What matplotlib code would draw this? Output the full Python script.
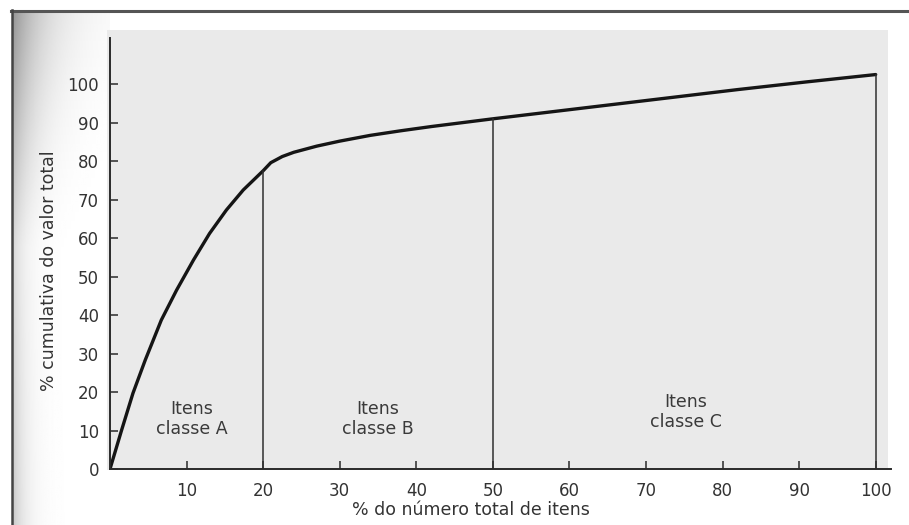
import numpy as np
import matplotlib
matplotlib.use("Agg")
from matplotlib import pyplot as plt
from matplotlib.patches import Rectangle

# curva ABC (% itens x % valor acumulado)
pct_itens = [0, 1.5, 3, 4.6, 6.7, 8.7, 10.9, 13, 15.2, 17.4, 20, 21, 22.5, 24, 27, 30,
             34, 38, 42, 46, 50, 58, 66, 74, 82, 91, 100]
pct_valor = [0, 10, 19.7, 28.3, 38.7, 46.5, 54.3, 61.2, 67.3, 72.5, 77.5, 79.6, 81.2, 82.3, 83.9, 85.2,
             86.7, 87.9, 89.0, 90.0, 91.0, 92.9, 94.8, 96.7, 98.6, 100.6, 102.5]

limites = [20, 50, 100]          # divisoes entre as classes
classes = ["Itens\nclasse A", "Itens\nclasse B", "Itens\nclasse C"]
pos_classes = [(10.7, 13), (35, 13), (75.2, 14.8)]

x_ticks = [10, 20, 30, 40, 50, 60, 70, 80, 90, 100]
y_ticks = [0, 10, 20, 30, 40, 50, 60, 70, 80, 90, 100]

W, H = 909, 525
plt.rcParams['font.family'] = ['DejaVu Sans']
fig = plt.figure(figsize=(W / 100, H / 100), dpi=100)
fig.patch.set_facecolor("white")

# fundo: sombra do scan na esquerda (mais escura no alto) + area cinza
bg = fig.add_axes([0, 0, 1, 1])
gx = np.linspace(0, 1, 120)
gy = np.linspace(0, 1, 60)[:, None]
forca = 0.42 - 0.25 * np.clip(gy * 2.2, 0, 1) + 0.06 * np.clip(gy * 2 - 1, 0, 1)
largura = 0.35 - 0.22 * np.clip(gy * 2.2, 0, 1)
sombra = 1 - forca * np.exp(-gx / largura)
bg.imshow(sombra, cmap="gray", vmin=0, vmax=1, extent=[12, 110, H, 11],
          aspect="auto", interpolation="bilinear")
bg.add_patch(Rectangle((107, 30), 781, 440, color="#eaeaea", lw=0))
bg.plot([11, W], [10.5, 10.5], color="#555555", lw=2.2)
bg.plot([11.5, 11.5], [10, H], color="#444444", lw=1.8)
bg.set_xlim(0, W)
bg.set_ylim(H, 0)
bg.axis("off")

ax = fig.add_axes([110 / W, 56 / H, 781 / W, 431 / H])
ax.patch.set_alpha(0)
ax.plot(pct_itens, pct_valor, color="#151515", lw=2.4,
        solid_capstyle="round", solid_joinstyle="round")

for lim in limites:
    topo = pct_valor[pct_itens.index(lim)]
    ax.plot([lim, lim], [0, topo], color="#303030", lw=1.1)

for txt, (px, py) in zip(classes, pos_classes):
    ax.text(px, py, txt, ha="center", va="center", fontsize=12.5,
            color="#3a3a3a", linespacing=1.15)

ax.set_xlim(0, 102)
ax.set_ylim(0, 112)
ax.set_xticks(x_ticks)
ax.set_yticks(y_ticks)
for s in ["top", "right"]:
    ax.spines[s].set_visible(False)
for s in ["left", "bottom"]:
    ax.spines[s].set_color("#2a2a2a")
    ax.spines[s].set_linewidth(1.4)
ax.tick_params(axis="both", direction="in", length=6, width=1.1,
               colors="#2a2a2a", labelsize=12, labelcolor="#333333")
ax.tick_params(axis="x", pad=9)
ax.tick_params(axis="y", pad=8)

ax.set_xlabel("% do número total de itens", fontsize=12.5, color="#333333")
ax.set_ylabel("% cumulativa do valor total", fontsize=12.5, color="#333333")
ax.xaxis.set_label_coords(0.462, -0.075)
ax.yaxis.set_label_coords(-0.066, 0.46)

fig.savefig("out.png", dpi=100)
